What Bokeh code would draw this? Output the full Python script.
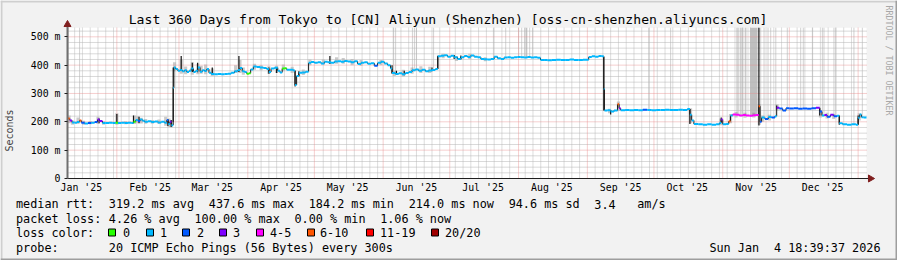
from bokeh.plotting import figure
from bokeh.models import ColumnDataSource, Range1d, FixedTicker, Label
from bokeh.embed import file_html
from bokeh.resources import INLINE

# ---------------- data ----------------
TITLE = "Last 360 Days from Tokyo to [CN] Aliyun (Shenzhen) [oss-cn-shenzhen.aliyuncs.com]"
month_labels = ["Jan '25", "Feb '25", "Mar '25", "Apr '25", "May '25", "Jun '25",
                "Jul '25", "Aug '25", "Sep '25", "Oct '25", "Nov '25", "Dec '25"]
label_days = [15, 46, 74, 105, 135, 166, 196, 227, 258, 288, 319, 349]   # days since 2025-01-01
month_starts = [31, 59, 90, 120, 151, 181, 212, 243, 273, 304, 334, 365]
y_ticks = [0, 100, 200, 300, 400, 500]
y_tick_labels = ["0", "100 m", "200 m", "300 m", "400 m", "500 m"]

loss_labels = ["0", "1", "2", "3", "4-5", "6-10", "11-19", "20/20"]
loss_colors = ["#26ff00", "#00b8ff", "#0059ff", "#7e00ff", "#ff00ff", "#ff5500", "#ff0000", "#a00000"]

stats_rtt = ["median rtt:", "319.2 ms avg", "437.6 ms max", "184.2 ms min", "214.0 ms now",
             "94.6 ms sd", "3.4", "am/s"]
stats_loss = ["packet loss:", "4.26 % avg", "100.00 % max", "0.00 % min", "1.06 % now"]
probe_text = ["probe:", "20 ICMP Echo Pings (56 Bytes) every 300s"]
stamp = ["Sun Jan", "4 18:39:37 2026"]

# median rtt samples (t = days since 2025-01-01, ms, loss class index)
t = [8.8, 9.8, 10.8, 12.0, 13.0, 14.2, 15.0, 16.5, 18.0, 19.5,
     21.0, 22.3, 23.2, 24.5, 26.0, 27.5, 29.0, 30.5, 31.5, 33.0,
     34.5, 36.0, 37.5, 38.5, 39.5, 40.5, 41.5, 42.5, 43.5, 45.0,
     46.5, 48.0, 49.5, 51.0, 52.5, 53.5, 54.2, 54.9, 55.6,
     56.4, 56.7, 57.5, 58.5, 59.5, 60.5, 61.5, 62.5, 63.5, 64.5,
     65.5, 66.5, 67.5, 68.5, 69.5, 70.5, 71.5, 72.5, 73.5, 75.0,
     76.5, 78.0, 79.5, 81.0, 82.5, 84.0, 85.5, 86.5, 87.5, 88.5,
     89.5, 90.5, 91.3, 92.5, 94.0, 95.5, 97.0, 98.5, 99.5, 100.5,
     102.0, 103.5, 104.5, 105.5, 106.5, 107.5, 109.0, 110.5, 111.3, 112.0,
     113.0, 114.5, 116.0,
     117.4, 118.5, 120.0, 121.5, 123.0, 124.5, 126.0, 127.5, 129.0, 130.5,
     132.0, 133.5, 135.0, 136.5, 138.0, 139.5, 141.0, 142.5, 144.0, 145.5,
     147.0, 148.5, 150.0, 151.5, 153.0, 154.3, 155.0, 156.5, 158.0, 159.5,
     161.0, 162.5, 164.0, 165.5, 167.0, 168.5, 170.0, 171.5, 173.0, 174.5,
     175.6, 177.0, 178.5, 180.0, 181.5, 183.0, 184.5, 186.0, 187.5, 189.0,
     190.5, 192.0, 193.5, 195.0, 196.5, 198.0, 199.5, 201.0, 202.5, 204.0,
     205.5, 207.0, 208.5, 210.0, 211.5, 213.0, 214.5, 216.0, 217.5, 219.0,
     220.5, 221.9, 223.5, 225.0, 227.0, 229.0, 231.0, 233.0, 235.0, 237.0,
     239.0, 241.0, 243.6, 245.0, 246.5, 248.0, 249.5,
     250.4, 250.7, 252.0, 253.5, 255.0, 256.6, 257.3, 258.0, 260.0, 262.0,
     264.0, 266.0, 268.0, 270.0, 272.0, 274.0, 276.0, 278.0, 280.0, 282.0,
     284.0, 286.0, 288.0, 289.2, 290.0, 291.0, 293.0, 295.0, 297.0, 299.0,
     301.0, 302.5, 303.3, 304.0, 305.5, 306.7,
     307.5, 308.5, 310.0, 311.5, 313.0, 314.5, 316.0, 317.5, 319.0, 320.2,
     320.8, 321.5, 323.0, 324.5, 326.0, 327.5, 328.3, 329.5, 331.0, 332.5,
     334.0, 336.0, 338.0, 340.0, 342.0, 344.0, 346.0, 347.7, 348.7, 349.8,
     351.0, 352.5, 354.0, 355.5, 356.5, 358.0, 360.0, 362.0, 364.0, 365.0,
     365.7, 366.5, 367.5]
median = [212, 205, 198, 197, 199, 205, 197, 194, 196, 197,
          199, 208, 203, 196, 196, 197, 196, 197, 196, 197,
          196, 197, 196, 200, 206, 203, 208, 204, 200, 202,
          199, 201, 198, 200, 197, 206, 192, 200, 188,
          320, 392, 386, 380, 383, 378, 382, 376, 380, 388,
          376, 380, 392, 377, 382, 379, 386, 373, 369, 368,
          369, 368, 369, 370, 373, 378, 383, 390, 378, 376,
          370, 371, 385, 395, 393, 392, 390, 386, 376, 388,
          391, 380, 374, 388, 389, 384, 384, 381, 330, 362,
          373, 374, 377,
          408, 411, 408, 410, 406, 412, 410, 408, 413, 414,
          412, 415, 413, 410, 414, 404, 408, 410, 405, 407,
          398, 408, 412, 406, 400, 388, 372, 369, 371, 368,
          372, 376, 382, 385, 380, 384, 378, 381, 383, 386,
          431, 433, 435, 430, 433, 428, 422, 428, 432, 429,
          434, 430, 428, 422, 421, 420, 422, 430, 424, 422,
          427, 428, 426, 428, 429, 428, 427, 429, 427, 428,
          426, 418, 418, 417, 418, 419, 418, 418, 420, 418,
          418, 419, 429, 431, 430, 432, 431,
          316, 240, 241, 236, 240, 262, 248, 241, 242, 241,
          242, 241, 243, 242, 241, 242, 242, 243, 242, 242,
          243, 242, 245, 225, 205, 192, 191, 190, 191, 190,
          191, 196, 208, 191, 192, 202,
          222, 226, 225, 222, 224, 222, 221, 223, 224, 255,
          200, 215, 210, 217, 215, 220, 250, 247, 240, 248,
          247, 248, 246, 247, 246, 248, 250, 236, 222, 224,
          218, 225, 220, 221, 195, 191, 190, 191, 190, 214,
          226, 216, 215]
loss = [5, 3, 1, 1, 1, 5, 2, 1, 2, 1,
        2, 3, 3, 1, 1, 1, 1, 0, 1, 1,
        1, 1, 1, 0, 1, 2, 1, 1, 1, 1,
        1, 1, 1, 1, 1, 2, 1, 3, 1,
        1, 1, 1, 1, 1, 1, 1, 1, 1, 1,
        1, 1, 1, 1, 1, 1, 1, 1, 1, 1,
        1, 1, 1, 1, 1, 1, 1, 1, 1, 1,
        0, 0, 1, 1, 1, 1, 1, 1, 1, 1,
        1, 1, 1, 0, 0, 1, 1, 1, 1, 1,
        1, 1, 1,
        1, 1, 1, 1, 1, 1, 1, 1, 1, 1,
        1, 1, 1, 1, 1, 1, 1, 1, 1, 1,
        2, 1, 1, 1, 1, 1, 1, 1, 1, 1,
        1, 1, 1, 1, 1, 1, 1, 1, 1, 1,
        1, 1, 1, 1, 1, 1, 1, 1, 1, 1,
        1, 1, 1, 1, 1, 1, 1, 1, 1, 1,
        1, 1, 1, 1, 1, 1, 1, 1, 1, 1,
        1, 1, 1, 1, 1, 1, 1, 1, 1, 1,
        1, 1, 1, 1, 1, 1, 1,
        1, 1, 1, 1, 1, 5, 3, 1, 1, 1,
        1, 1, 2, 1, 1, 1, 1, 1, 1, 1,
        1, 1, 1, 1, 1, 1, 1, 1, 1, 1,
        1, 1, 3, 1, 1, 5,
        1, 4, 4, 4, 4, 4, 4, 4, 4, 5,
        2, 1, 2, 1, 2, 1, 3, 2, 2, 2,
        2, 2, 2, 2, 2, 2, 3, 2, 1, 3,
        2, 3, 2, 1, 1, 1, 1, 1, 1, 1,
        1, 1, 1]

# smoke (spread of the 20 pings) around the median
smoke_t = [9.5, 11, 13.5, 16, 19, 22.5, 25, 31, 35, 39,
           40.5, 42, 44, 47, 50, 53, 54.5, 55.5, 57, 60,
           62, 65, 67.5, 69, 71, 74, 84.5, 86.5, 88, 93,
           96, 99.5, 103, 106, 110, 115, 118, 124, 130, 133,
           137, 141, 150, 156, 160, 164, 168, 172, 178, 184,
           190, 197, 253, 257, 289.5, 303, 307.5, 310, 314, 318,
           320.5, 322, 325, 328.5, 348, 351, 354, 365.5]
smoke_lo = [195, 190, 192, 190, 191, 192, 190, 190, 191, 192,
            195, 194, 193, 193, 192, 186, 182, 180, 378, 370,
            368, 366, 368, 370, 368, 362, 372, 372, 366, 384,
            382, 370, 372, 378, 372, 365, 400, 402, 405, 405,
            400, 398, 400, 362, 360, 370, 372, 372, 424, 415,
            422, 414, 230, 238, 195, 188, 195, 215, 214, 215,
            190, 200, 205, 240, 215, 212, 210, 205]
smoke_hi = [222, 205, 215, 204, 203, 218, 202, 230, 202, 222,
            220, 214, 210, 206, 208, 218, 212, 205, 410, 420,
            395, 410, 405, 398, 402, 388, 400, 418, 392, 405,
            400, 396, 398, 402, 394, 385, 420, 420, 428, 425,
            422, 418, 418, 380, 384, 392, 396, 394, 440, 432,
            440, 428, 246, 272, 248, 212, 228, 235, 232, 232,
            262, 222, 225, 262, 242, 232, 228, 230]

# dark smoke spikes
spike_t = [23, 31, 38.5, 41, 54, 55.5, 56.4, 60, 65, 67.4,
           74, 86, 99.5, 103, 111.3, 113, 127, 155, 157, 160.5,
           173, 175.6, 183, 186, 250.4, 253.5, 289.2, 303.3, 320.3, 328.3,
           347.7, 356.5, 365]
spike_lo = [195, 196, 195, 195, 185, 182, 200, 380, 376, 375,
            366, 376, 370, 372, 325, 360, 404, 370, 366, 364,
            378, 386, 422, 420, 240, 226, 192, 200, 187, 246,
            222, 190, 190]
spike_hi = [212, 228, 222, 218, 210, 206, 392, 432, 408, 408,
            392, 432, 392, 392, 380, 378, 432, 400, 380, 380,
            392, 433, 436, 434, 430, 242, 245, 215, 532, 258,
            248, 222, 222]

# smoke running off the top of the graph
tall_t = [8.95, 14.2, 155.7, 156.6, 164.2, 165.1, 166.0, 173.7, 200.7, 206.2,
          212.0, 213.4, 214.7, 215.6, 217.0, 218.3, 270.6, 280.5, 310.3, 310.9,
          312.1, 312.8, 314.3, 318.0, 321.1, 322.6, 324.4, 325.6, 327.9, 333.1,
          339.1, 340.3, 344.4, 348.9, 349.6, 354.1, 354.9, 363.1, 366.9, 313.2]
tall_lo = [212, 205, 372, 370, 382, 385, 385, 383, 430, 427,
           428, 428, 427, 429, 427, 428, 242, 242, 225, 225,
           222, 224, 222, 223, 215, 215, 217, 215, 220, 248,
           247, 247, 248, 224, 224, 220, 221, 190, 216, 222]
tall_w = [0.6, 0.5, 0.5, 0.5, 0.5, 0.5, 0.5, 0.5, 0.5, 0.5,
          0.5, 0.5, 0.5, 0.7, 0.5, 0.5, 0.5, 0.5, 0.5, 0.5,
          0.5, 0.5, 0.5, 3.3, 0.5, 0.5, 0.5, 0.5, 0.5, 0.5,
          0.5, 0.5, 0.5, 0.5, 0.5, 0.5, 0.5, 0.5, 0.5, 5.5]
tall_a = [0.5, 0.35, 0.35, 0.35, 0.35, 0.35, 0.35, 0.35, 0.35, 0.35,
          0.35, 0.35, 0.35, 0.5, 0.35, 0.35, 0.35, 0.35, 0.35, 0.35,
          0.35, 0.35, 0.35, 0.55, 0.35, 0.35, 0.35, 0.35, 0.35, 0.35,
          0.35, 0.35, 0.35, 0.35, 0.35, 0.35, 0.35, 0.35, 0.35, 0.15]

# ---------------- layout constants ----------------
W, H = 897, 260
AX_X, AX_Y = 67, 178                            # canvas px of the axes origin
PXD = 799.0 / 360.0                             # px per day
PXM = 0.2834                                    # px per ms
T0 = 8.77
T_END = T0 + 360.0
PLOT_TOP = 532.0
BG = "#f2f2f2"
MONO = "DejaVu Sans Mono"

# the frame covers the whole canvas; both axes sit at fixed data locations
x_start = T0 - AX_X / PXD
x_end = x_start + W / PXD
y_start = -(H - AX_Y) / PXM
y_end = y_start + H / PXM


def dx(px):
    return x_start + px / PXD


def dy(py):
    return y_start + (H - py) / PXM


p = figure(width=W, height=H, title=None, output_backend="svg", toolbar_location=None,
           x_range=Range1d(x_start, x_end), y_range=Range1d(y_start, y_end),
           min_border_left=0, min_border_right=0, min_border_top=0, min_border_bottom=0)
p.background_fill_color = BG
p.border_fill_color = BG
p.outline_line_color = None
p.xgrid.visible = False
p.ygrid.visible = False

# axes
p.xaxis.fixed_location = 0
p.xaxis.ticker = FixedTicker(ticks=label_days)
p.xaxis.major_label_overrides = {d: s for d, s in zip(label_days, month_labels)}
p.xaxis.axis_line_color = None
p.xaxis.major_tick_line_color = None
p.xaxis.major_tick_out = 0
p.xaxis.major_tick_in = 0
p.xaxis.minor_tick_line_color = None
p.xaxis.major_label_standoff = 3
p.xaxis.major_label_text_font = MONO
p.xaxis.major_label_text_font_size = "9.9px"
p.xaxis.major_label_text_color = "#000000"

p.yaxis.fixed_location = T0
p.yaxis.ticker = FixedTicker(ticks=y_ticks)
p.yaxis.major_label_overrides = {v: s for v, s in zip(y_ticks, y_tick_labels)}
p.yaxis.axis_line_color = None
p.yaxis.major_tick_line_color = "#1f1f1f"
p.yaxis.major_tick_in = 0
p.yaxis.major_tick_out = 3
p.yaxis.minor_tick_line_color = None
p.yaxis.major_label_standoff = 4
p.yaxis.major_label_text_font = MONO
p.yaxis.major_label_text_font_size = "9.9px"
p.yaxis.major_label_text_color = "#000000"
p.yaxis.axis_label = "Seconds"
p.yaxis.axis_label_text_font = MONO
p.yaxis.axis_label_text_font_style = "normal"
p.yaxis.axis_label_text_font_size = "10px"
p.yaxis.axis_label_standoff = 13

# 3-D border of the image
p.quad(left=[dx(0), dx(0)], right=[dx(W), dx(2)], top=[dy(0), dy(0)], bottom=[dy(2), dy(H)],
       fill_color="#cfcfcf", line_color=None)
p.quad(left=[dx(0), dx(W - 2)], right=[dx(W), dx(W)], top=[dy(H - 2), dy(0)], bottom=[dy(H), dy(H)],
       fill_color="#9e9e9e", line_color=None)

# canvas (white plotting area)
p.quad(left=[T0], right=[T_END], bottom=[0], top=[PLOT_TOP], fill_color="#ffffff", line_color=None)

# smoke reaching above the top
p.vbar(x=tall_t, width=tall_w, bottom=tall_lo, top=PLOT_TOP, fill_color="#8a8a8a",
       fill_alpha=tall_a, line_color=None)
# smoke around median
p.vbar(x=smoke_t, width=1.4, bottom=smoke_lo, top=smoke_hi, fill_color="#6a6a6a",
       fill_alpha=0.35, line_color=None)

# grid
minor_y = [v for v in range(20, int(PLOT_TOP), 20) if v % 100 != 0]
major_y = [v for v in range(100, int(PLOT_TOP), 100)]
minor_x = [12 + 3.5 * k for k in range(0, 102)]
minor_x = [d for d in minor_x if d < T_END and all(abs(d - m) > 1.0 for m in month_starts)]
GRID_C = "#b4b4b4"
MGRID_C = "#e88a8a"
p.segment(x0=T0, x1=T_END, y0=minor_y, y1=minor_y, line_color=GRID_C, line_width=1,
          line_dash="1 1", line_alpha=1.0)
p.segment(x0=minor_x, x1=minor_x, y0=0, y1=PLOT_TOP, line_color=GRID_C, line_width=1,
          line_dash="1 1", line_alpha=0.9)
p.segment(x0=T0, x1=T_END, y0=major_y, y1=major_y, line_color=MGRID_C, line_width=1,
          line_dash="1 1", line_alpha=0.8)
p.segment(x0=month_starts, x1=month_starts, y0=0, y1=PLOT_TOP, line_color=MGRID_C,
          line_width=1, line_dash="1 1", line_alpha=0.8)

# dark spikes
p.segment(x0=spike_t, x1=spike_t, y0=spike_lo, y1=spike_hi, line_color="#151515", line_width=1.2)

# median line, coloured by loss
x_next = t[1:] + [T_END]
vert = ColumnDataSource(dict(x=t[1:], y0=median[:-1], y1=median[1:]))
p.segment(x0="x", x1="x", y0="y0", y1="y1", source=vert, line_color="#1a1a1a", line_width=1)
horiz = ColumnDataSource(dict(x0=t, x1=x_next, y=median, c=[loss_colors[i] for i in loss]))
p.segment(x0="x0", x1="x1", y0="y", y1="y", source=horiz, line_color="c", line_width=2)

# axes lines and arrows
AXC = "#1f1f1f"
ARC = "#801f1f"
x_arrow = dx(870)
y_arrow = dy(24)
p.segment(x0=[T0], x1=[x_arrow], y0=[0], y1=[0], line_color=AXC, line_width=1)
p.segment(x0=[T0], x1=[T0], y0=[0], y1=[y_arrow], line_color="#6f6f6f", line_width=2)
p.scatter(x=[x_arrow], y=[0], marker="triangle", size=7, angle=-1.5708,
          fill_color=ARC, line_color=ARC)
p.scatter(x=[T0], y=[y_arrow], marker="triangle", size=7, fill_color=ARC, line_color=ARC)

# legend squares
sq_x = [108, 146, 182, 219, 256, 307, 366, 431]
lab_x = [122.5, 159.5, 196.5, 232.5, 269.5, 319.5, 379.5, 444.5]
p.quad(left=[dx(v) for v in sq_x], right=[dx(v + 7) for v in sq_x],
       top=dy(228.5), bottom=dy(235.5), fill_color=loss_colors, line_color="#000000", line_width=1)


# ---------------- texts ----------------
def put(text, cx, cy, size, align="left", color="#000000", angle=0.0):
    p.add_layout(Label(x=cx, y=H - cy, x_units="screen", y_units="screen",
                       text=text, text_align=align, text_baseline="middle",
                       text_font=MONO, text_font_size=size, text_color=color, angle=angle))


put(TITLE, 447.5, 19.3, "13.1px", align="center")
put("RRDTOOL / TOBI OETIKER", 888.5, 60, "8.3px", align="center", color="#a8a8a8", angle=-1.5708)

CW = 7.14
X0 = 15.5
rtt_cols = [0, 13, 27, 41, 55, 69, 81, 87]
for s, c in zip(stats_rtt, rtt_cols):
    put(s, X0 + c * CW, 203.5, "11.8px")
loss_cols = [0, 13, 25, 39, 51]
for s, c in zip(stats_loss, loss_cols):
    put(s, X0 + c * CW, 218.0, "11.8px")
put("loss color:", X0, 232.0, "11.8px")
for lab, lx in zip(loss_labels, lab_x):
    put(lab, lx, 232.0, "11.8px")
put(probe_text[0], X0, 247.0, "11.8px")
put(probe_text[1], X0 + 13 * CW, 247.0, "11.8px")
put(stamp[1], 880, 247.0, "11.8px", align="right")
put(stamp[0], 880 - 17 * CW, 247.0, "11.8px", align="right")

open("out.html", "w").write(file_html(p, INLINE))
